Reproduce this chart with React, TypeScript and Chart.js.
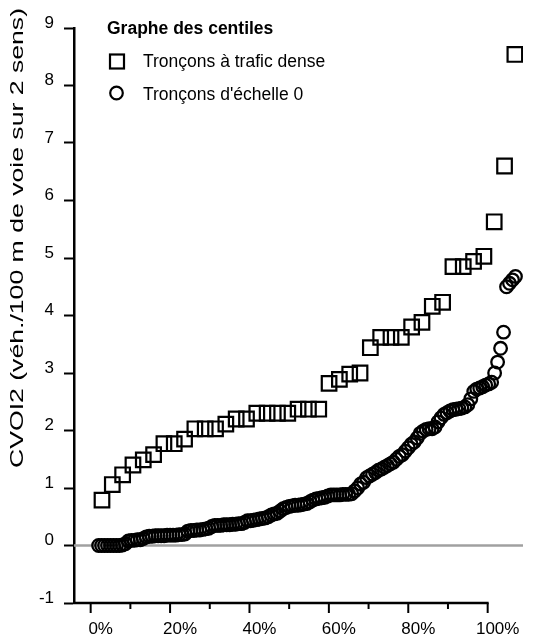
import React, { useEffect, useRef } from 'react';
import { Chart, registerables } from 'chart.js';

Chart.register(...registerables);

// ---- Data (x in %, y in CVOI2) ----
const squareX = [
  2.85, 5.45, 8.05, 10.65, 13.25, 15.85, 18.45, 21.05, 23.65, 26.25,
  28.85, 31.45, 34.05, 36.65, 39.25, 41.85, 44.45, 47.05, 49.65, 52.25,
  54.85, 57.45, 60.05, 62.65, 65.25, 67.85, 70.45, 73.05, 75.65, 78.25,
  80.85, 83.45, 86.05, 88.65, 91.25, 93.85, 96.45, 99.05, 101.65, 104.25,
  106.85,
];
const squareY = [
  0.79, 1.06, 1.23, 1.4, 1.49, 1.58, 1.77, 1.77, 1.85, 2.03,
  2.03, 2.03, 2.11, 2.2, 2.2, 2.3, 2.3, 2.3, 2.3, 2.37,
  2.37, 2.37, 2.82, 2.89, 2.98, 3.0, 3.44, 3.62, 3.62, 3.62,
  3.8, 3.88, 4.16, 4.23, 4.85, 4.85, 4.94, 5.03, 5.63, 6.6,
  8.54,
];
const circleX = [
  2, 2.75, 3.5, 4.25, 5, 5.75, 6.5, 7.25, 8, 8.75,
  9.5, 10.25, 11, 11.75, 12.5, 13.25, 14, 14.75, 15.5, 16.25,
  17, 17.75, 18.5, 19.25, 20, 20.75, 21.5, 22.25, 23, 23.75,
  24.5, 25.25, 26, 26.75, 27.5, 28.25, 29, 29.75, 30.5, 31.25,
  32, 32.75, 33.5, 34.25, 35, 35.75, 36.5, 37.25, 38, 38.75,
  39.5, 40.25, 41, 41.75, 42.5, 43.25, 44, 44.75, 45.5, 46.25,
  47, 47.75, 48.5, 49.25, 50, 50.75, 51.5, 52.25, 53, 53.75,
  54.5, 55.25, 56, 56.75, 57.5, 58.25, 59, 59.75, 60.5, 61.25,
  62, 62.75, 63.5, 64.25, 65, 65.75, 66.5, 67.25, 68, 68.75,
  69.5, 70.25, 71, 71.75, 72.5, 73.25, 74, 74.75, 75.5, 76.25,
  77, 77.75, 78.5, 79.25, 80, 80.75, 81.5, 82.25, 83, 83.75,
  84.5, 85.25, 86, 86.75, 87.5, 88.25, 89, 89.75, 90.5, 91.25,
  92, 92.75, 93.5, 94.25, 95, 95.75, 96.5, 97.25, 98, 98.75,
  99.5, 100.25, 101, 101.75, 102.5, 103.25, 104, 104.75, 105.5, 106.25,
  107,
];
const circleY = [
  0, 0, 0, 0, 0, 0, 0, 0, 0.01, 0.03,
  0.08, 0.09, 0.09, 0.1, 0.1, 0.12, 0.15, 0.16, 0.16, 0.17,
  0.17, 0.17, 0.17, 0.18, 0.18, 0.18, 0.18, 0.19, 0.19, 0.2,
  0.25, 0.26, 0.26, 0.27, 0.27, 0.28, 0.29, 0.3, 0.33, 0.35,
  0.35, 0.35, 0.36, 0.36, 0.36, 0.37, 0.37, 0.38, 0.38, 0.4,
  0.43, 0.43, 0.44, 0.45, 0.46, 0.47, 0.48, 0.5, 0.53, 0.55,
  0.56, 0.6, 0.64, 0.66, 0.68, 0.69, 0.7, 0.7, 0.71, 0.72,
  0.73, 0.76, 0.79, 0.81, 0.82, 0.83, 0.84, 0.86, 0.88, 0.88,
  0.88, 0.88, 0.89, 0.89, 0.89, 0.9, 0.95, 1.0, 1.07, 1.1,
  1.18, 1.21, 1.24, 1.27, 1.31, 1.33, 1.36, 1.39, 1.42, 1.45,
  1.5, 1.55, 1.58, 1.64, 1.7, 1.76, 1.8, 1.87, 1.95, 1.99,
  2.02, 2.03, 2.03, 2.06, 2.15, 2.22, 2.28, 2.31, 2.34, 2.36,
  2.37, 2.38, 2.39, 2.41, 2.45, 2.55, 2.68, 2.72, 2.74, 2.76,
  2.79, 2.81, 2.84, 3.0, 3.19, 3.43, 3.71, 4.5, 4.56, 4.62,
  4.68,
];
const xTickValues = [0, 10, 20, 30, 40, 50, 60, 70, 80, 90, 100];
const xLabelValues = [0, 20, 40, 60, 80, 100];
const yTickValues = [-1, 0, 1, 2, 3, 4, 5, 6, 7, 8, 9];
const seriesNames = ['Tronçons à trafic dense', "Tronçons d'échelle 0"];
const legendTitle = 'Graphe des centiles';
const yAxisTitle = 'CVOI2 (véh./100 m de voie sur 2 sens)';

const FONT = '"Liberation Sans", Arial, Helvetica, sans-serif';

const decorPlugin = {
  id: 'decor',
  beforeDatasetsDraw(chart: any) {
    const { ctx, chartArea, scales } = chart;
    const y0 = scales.y.getPixelForValue(0);
    ctx.save();
    ctx.strokeStyle = '#a0a0a0';
    ctx.lineWidth = 2.5;
    ctx.beginPath();
    ctx.moveTo(chartArea.left, y0);
    ctx.lineTo(chartArea.right, y0);
    ctx.stroke();
    ctx.restore();
  },
  afterDraw(chart: any) {
    const { ctx, chartArea, scales } = chart;
    const xs = scales.x;
    const yb = chartArea.bottom;
    ctx.save();
    ctx.strokeStyle = '#000';
    // x axis line
    ctx.lineWidth = 2.5;
    ctx.beginPath();
    ctx.moveTo(chartArea.left - 1, yb);
    ctx.lineTo(xs.getPixelForValue(100) + 1, yb);
    ctx.stroke();
    // x ticks
    ctx.lineWidth = 2;
    xTickValues.forEach((v) => {
      const px = xs.getPixelForValue(v);
      const len = xLabelValues.includes(v) ? 10 : 6;
      ctx.beginPath();
      ctx.moveTo(px, yb);
      ctx.lineTo(px, yb + len);
      ctx.stroke();
    });
    // y axis title (stretched along its length like the reference)
    ctx.fillStyle = '#000';
    ctx.font = `18px ${FONT}`;
    ctx.textAlign = 'center';
    ctx.textBaseline = 'middle';
    const w = ctx.measureText(yAxisTitle).width;
    ctx.translate(18, 238);
    ctx.rotate(-Math.PI / 2);
    ctx.scale(460 / w, 1);
    ctx.fillText(yAxisTitle, 0, 0);
    ctx.restore();

    // legend
    ctx.save();
    ctx.fillStyle = '#000';
    ctx.strokeStyle = '#000';
    ctx.textAlign = 'left';
    ctx.textBaseline = 'alphabetic';
    ctx.font = `bold 17.5px ${FONT}`;
    ctx.fillText(legendTitle, 107, 34);
    ctx.font = `17.5px ${FONT}`;
    ctx.lineWidth = 2.2;
    ctx.strokeRect(110, 54.5, 14, 14);
    ctx.fillText(seriesNames[0], 143, 67);
    ctx.beginPath();
    ctx.arc(116.5, 93, 6.3, 0, Math.PI * 2);
    ctx.stroke();
    ctx.fillText(seriesNames[1], 143, 99.5);
    ctx.restore();
  },
};

export default function App() {
  const ref = useRef<HTMLCanvasElement>(null);
  useEffect(() => {
    if (!ref.current) return;
    const chart = new Chart(ref.current, {
      type: 'scatter',
      data: {
        datasets: [
          {
            label: seriesNames[0],
            data: squareX.map((x, i) => ({ x, y: squareY[i] })),
            pointStyle: 'rect',
            pointRadius: 10.3,
            pointBorderWidth: 2.2,
            borderColor: '#000',
            backgroundColor: 'rgba(0,0,0,0)',
            pointBackgroundColor: 'rgba(0,0,0,0)',
            pointBorderColor: '#000',
            showLine: false,
          } as any,
          {
            label: seriesNames[1],
            data: circleX.map((x, i) => ({ x, y: circleY[i] })),
            pointStyle: 'circle',
            pointRadius: 6.3,
            pointBorderWidth: 2.3,
            borderColor: '#000',
            backgroundColor: 'rgba(0,0,0,0)',
            pointBackgroundColor: 'rgba(0,0,0,0)',
            pointBorderColor: '#000',
            showLine: false,
          } as any,
        ],
      },
      options: {
        responsive: false,
        animation: false,
        devicePixelRatio: 1,
        layout: { padding: { left: 0, top: 28, right: 36, bottom: 0 } },
        plugins: {
          legend: { display: false },
          tooltip: { enabled: false },
        },
        scales: {
          x: {
            type: 'linear',
            min: -4.2,
            max: 108.9,
            afterBuildTicks: (s: any) => {
              s.ticks = xTickValues.map((v) => ({ value: v }));
            },
            afterFit: (s: any) => {
              s.height = 37;
            },
            grid: { display: false, drawTicks: false },
            border: { display: false },
            ticks: {
              autoSkip: false,
              maxRotation: 0,
              minRotation: 0,
              padding: 16,
              labelOffset: 10,
              color: '#000',
              font: { family: FONT, size: 17 },
              callback: (v: any) => (xLabelValues.includes(Number(v)) ? `${v}%` : ''),
            },
          },
          y: {
            type: 'linear',
            min: -1,
            max: 9,
            afterBuildTicks: (s: any) => {
              s.ticks = yTickValues.map((v) => ({ value: v }));
            },
            afterFit: (s: any) => {
              s.width = 74;
            },
            grid: {
              display: true,
              drawOnChartArea: false,
              drawTicks: true,
              tickLength: 10,
              tickWidth: 2,
              tickColor: '#000',
            },
            border: { display: true, color: '#000', width: 2.5 },
            ticks: {
              padding: 10,
              labelOffset: -5,
              color: '#000',
              font: { family: FONT, size: 17 },
              callback: (v: any) => `${v}`,
            },
          },
        },
      },
      plugins: [decorPlugin],
    });
    return () => chart.destroy();
  }, []);
  return (
    <div style={{ position: 'absolute', left: 0, top: 0, width: 559, height: 640, background: '#fff' }}>
      <canvas ref={ref} width={559} height={640} style={{ display: 'block' }} />
    </div>
  );
}
